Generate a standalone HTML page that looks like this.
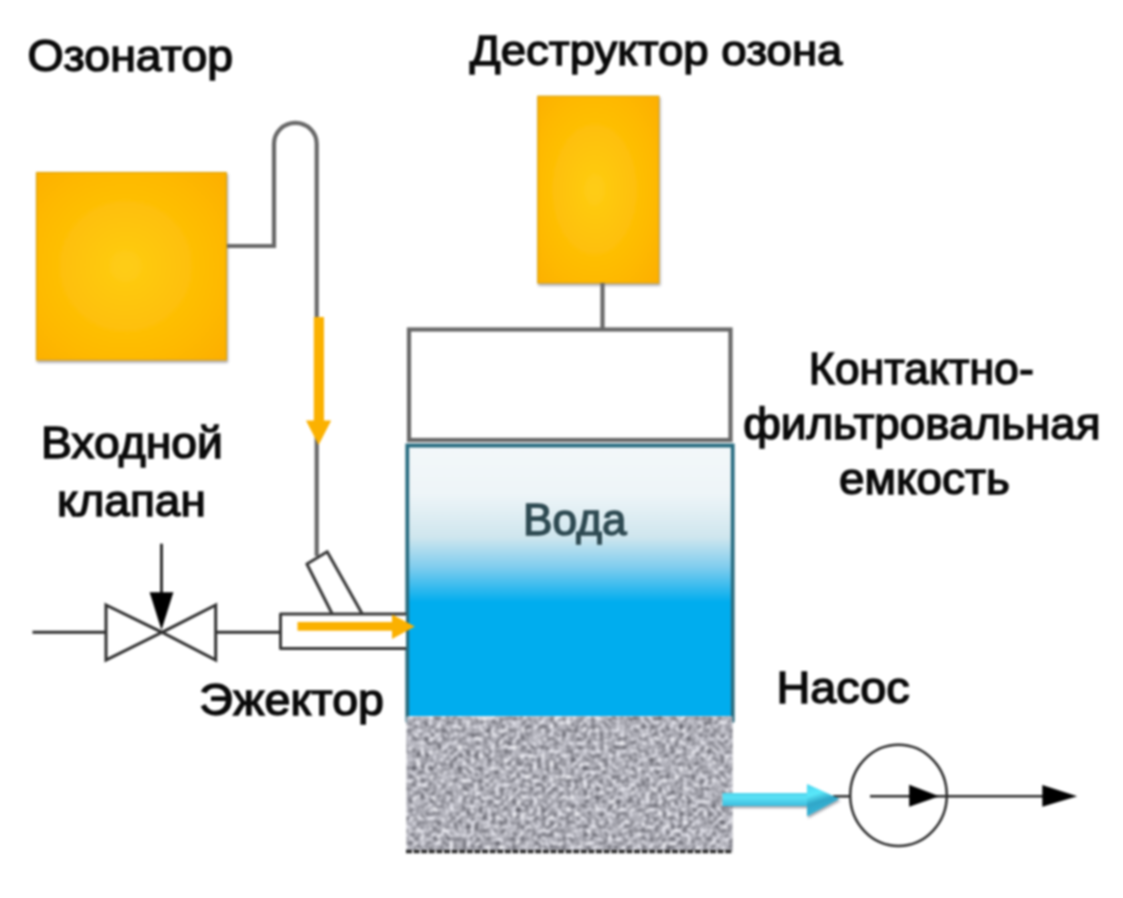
<!DOCTYPE html>
<html><head><meta charset="utf-8">
<style>
html,body{margin:0;padding:0;background:#fff;width:1123px;height:898px;overflow:hidden}
svg{display:block;filter:blur(0.9px)}
text{font-family:"Liberation Sans",sans-serif;font-size:46px;fill:#0a0a0a;stroke:#0a0a0a;stroke-width:1.5px}
</style></head><body>
<svg width="1123" height="898" viewBox="0 0 1123 898">
<defs>
  <radialGradient id="og" cx="0.47" cy="0.5" r="0.72">
    <stop offset="0" stop-color="#fecd15"/>
    <stop offset="0.7" stop-color="#feb900"/>
    <stop offset="1" stop-color="#fdaf00"/>
  </radialGradient>
  <linearGradient id="wg" x1="0" y1="0" x2="0" y2="1">
    <stop offset="0" stop-color="#f3f8fa"/>
    <stop offset="0.18" stop-color="#eef5f8"/>
    <stop offset="0.34" stop-color="#cfe6ee"/>
    <stop offset="0.45" stop-color="#80cdee"/>
    <stop offset="0.58" stop-color="#00adee"/>
    <stop offset="1" stop-color="#00adee"/>
  </linearGradient>
  <filter id="sand" x="0" y="0" width="1" height="1" color-interpolation-filters="sRGB">
    <feTurbulence type="fractalNoise" baseFrequency="0.24" numOctaves="4" seed="5" result="n"/>
    <feColorMatrix in="n" type="matrix" values="1.25 0 0 0 0.06  1.25 0 0 0 0.06  1.25 0 0 0 0.095  0 0 0 0 1" result="g"/>
    <feGaussianBlur in="g" stdDeviation="0.8"/>
  </filter>
  <filter id="shadow" x="-10%" y="-10%" width="120%" height="120%">
    <feGaussianBlur in="SourceAlpha" stdDeviation="0.8"/>
    <feOffset dx="1" dy="1.6" result="ob"/>
    <feFlood flood-color="#303040" flood-opacity="0.45"/>
    <feComposite in2="ob" operator="in"/>
    <feMerge><feMergeNode/><feMergeNode in="SourceGraphic"/></feMerge>
  </filter>
  <linearGradient id="cg" x1="0" y1="0" x2="0" y2="1">
    <stop offset="0" stop-color="#4fd3ec"/>
    <stop offset="0.35" stop-color="#5ae2f6"/>
    <stop offset="1" stop-color="#3bbbdc"/>
  </linearGradient>
  <linearGradient id="cg2" x1="0" y1="0" x2="0.3" y2="1">
    <stop offset="0" stop-color="#4ad6f0"/>
    <stop offset="0.35" stop-color="#5ae8fa"/>
    <stop offset="0.6" stop-color="#2fa6c8"/>
    <stop offset="1" stop-color="#3ab8da"/>
  </linearGradient>
</defs>

<!-- labels -->
<text transform="matrix(1.0105 0 0 0.97 27.38 2.13)" x="0" y="70.9">Озонатор</text>
<text transform="matrix(0.9907 0 0 0.94 469.8 3.93)" x="0" y="65.5">Деструктор озона</text>
<text transform="matrix(1.0074 0 0 0.97 40.88 13.75)" x="0" y="458.4">Входной</text>
<text transform="matrix(1.0 0 0 0.97 56.9 15.47)" x="0" y="515.8">клапан</text>
<text transform="matrix(0.9705 0 0 0.97 808.69 11.51)" x="0" y="383.6">Контактно-</text>
<text transform="matrix(0.9949 0 0 0.97 743.21 13.16)" x="0" y="438.8">фильтровальная</text>
<text transform="matrix(0.9964 0 0 0.97 839.0 14.83)" x="0" y="494.4">емкость</text>
<text transform="matrix(1.0128 0 0 0.97 199.37 21.44)" x="0" y="714.7">Эжектор</text>
<text transform="matrix(1.0165 0 0 0.97 776.55 21.08)" x="0" y="702.7">Насос</text>

<!-- orange boxes -->
<rect x="36.5" y="172.5" width="189.8" height="187.5" fill="url(#og)" stroke="#dca40c" stroke-width="1.2" filter="url(#shadow)"/>
<rect x="537.8" y="96.2" width="121" height="186.8" fill="url(#og)" stroke="#dca40c" stroke-width="1.2" filter="url(#shadow)"/>

<!-- pipes gray -->
<g fill="none" stroke="#686868" stroke-width="4.2">
  <path d="M227 246 H274 V143.8 A21.35 21 0 0 1 316.7 143.8 V556"/>
  <path d="M602.5 283 V329"/>
  <rect x="409" y="329.5" width="321.5" height="110.5"/>
</g>

<!-- water -->
<rect x="407" y="445" width="326" height="271" fill="url(#wg)"/>
<path d="M407.3 721 V445.5 H732.7 V721" fill="none" stroke="#286c80" stroke-width="3.8" stroke-linecap="round"/>
<text transform="matrix(0.961 0 0 0.97 523.12 16.04)" x="0" y="534.7" style="fill:#2e4a52;stroke:#2e4a52">Вода</text>

<!-- sand -->
<rect x="406" y="716" width="327" height="135" filter="url(#sand)"/>
<path d="M406 851.5 H733" stroke="#2e2e2e" stroke-width="3.6" stroke-dasharray="6 1.6"/>

<!-- ejector -->
<g fill="#fff" stroke="#383838" stroke-width="3" stroke-linejoin="round">
  <path d="M332 613.5 L306.9 564 L327.2 551.7 L362 613.5"/>
  <path d="M406 614 H280.5 V648.5 H406"/>
</g>
<!-- valve -->
<g fill="none" stroke="#303030" stroke-width="3" stroke-linejoin="miter">
  <path d="M32.5 632.3 H106"/>
  <path d="M215.7 632.3 H280.5"/>
  <path d="M106 605 L162 632.3 L106 660 Z"/>
  <path d="M215.7 605 L162 632.3 L215.7 660 Z"/>
  <path d="M161.5 543.7 V595"/>
</g>
<path d="M149.6 592.3 H173.4 L161.5 630 Z" fill="#000"/>

<!-- yellow arrows -->
<g fill="#fbb100">
  <rect x="313.8" y="317" width="10.2" height="106"/>
  <path d="M306 420.6 H331.2 L318.6 445 Z"/>
  <rect x="297.5" y="622" width="96" height="8.7"/>
  <path d="M392 614.4 V639 L414.8 626.6 Z"/>
</g>

<!-- pump -->
<g fill="none" stroke="#2c2c2c" stroke-width="2.5">
  <ellipse cx="898.5" cy="795.3" rx="48.3" ry="50.6"/>
  <path d="M833 796.3 H849.5"/>
  <path d="M870 796.3 H1045"/>
</g>
<path d="M909.2 784.7 V806.7 L939.2 796.3 Z" fill="#000"/>
<path d="M1042.3 785 V806.8 L1077.2 796.2 Z" fill="#000"/>
<!-- cyan arrow -->
<g filter="url(#shadow)">
  <rect x="722.5" y="793" width="86" height="13" fill="url(#cg)"/>
  <path d="M807 783.9 V816.3 L839.4 798.8 Z" fill="url(#cg2)"/>
</g>
</svg>
</body></html>
